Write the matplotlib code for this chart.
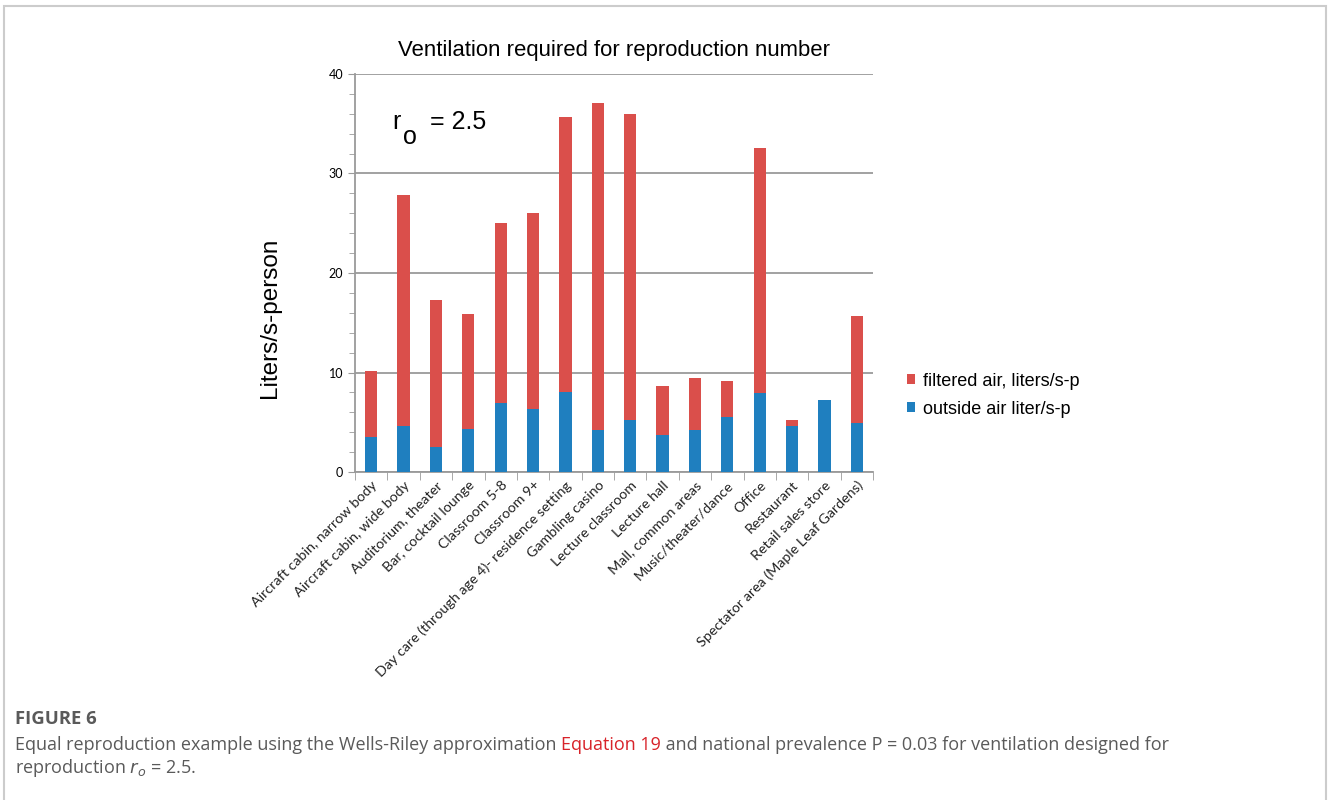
import matplotlib.pyplot as plt
from matplotlib.patches import Rectangle
from matplotlib.ticker import MultipleLocator, FixedLocator

# data (liters/s per person)
categories = [
    'Aircraft cabin, narrow body', 'Aircraft cabin, wide body', 'Auditorium, theater',
    'Bar, cocktail lounge', 'Classroom 5-8', 'Classroom 9+',
    'Day care (through age 4)- residence setting', 'Gambling casino', 'Lecture classroom',
    'Lecture hall', 'Mall, common areas', 'Music/theater/dance', 'Office', 'Restaurant',
    'Retail sales store', 'Spectator area (Maple Leaf Gardens)',
]
outside_air = [3.5, 4.6, 2.5, 4.3, 6.9, 6.3, 8.0, 4.2, 5.2, 3.7, 4.2, 5.5, 7.9, 4.6, 7.2, 4.9]
total_air = [10.2, 27.8, 17.3, 15.9, 25.0, 26.0, 35.7, 37.1, 36.0, 8.6, 9.4, 9.1, 32.6, 5.2, 7.2, 15.7]
filtered_air = [t - o for t, o in zip(total_air, outside_air)]

red = '#DA4F4B'
blue = '#1F7FBF'

fig = plt.figure(figsize=(13.28, 8), dpi=100)

# light frame around the whole figure
fig.patches.append(Rectangle((4 / 1328, -0.01), 1322 / 1328, 1 - 6 / 800 + 0.01,
                             transform=fig.transFigure, fill=False,
                             edgecolor='#CCCCCC', linewidth=1.5))

ax = fig.add_axes([355 / 1328, 1 - 472 / 800, 518 / 1328, 398 / 800])
x = range(len(categories))
ax.bar(x, outside_air, width=0.38, color=blue, label='outside air liter/s-p', zorder=3)
ax.bar(x, filtered_air, width=0.38, bottom=outside_air, color=red,
       label='filtered air, liters/s-p', zorder=3)

ax.set_xlim(-0.5, len(categories) - 0.5)
ax.set_ylim(0, 40)
ax.yaxis.set_major_locator(MultipleLocator(10))
ax.yaxis.set_minor_locator(MultipleLocator(2))
ax.grid(axis='y', color='#9A9A9A', linewidth=1.3, zorder=0)

ax.set_xticks(list(x))
ax.set_xticklabels(categories, rotation=45, ha='right', rotation_mode='anchor',
                   fontsize=10.3, family='Lato', color='#222222')
ax.xaxis.set_minor_locator(FixedLocator([i - 0.5 for i in range(len(categories) + 1)]))
ax.tick_params(axis='x', which='major', length=0, pad=5)
ax.tick_params(axis='x', which='minor', length=6, color='#9A9A9A')
ax.tick_params(axis='y', which='major', length=5, color='#9A9A9A', labelsize=9)
ax.tick_params(axis='y', which='minor', length=4, color='#9A9A9A')
for lab in ax.get_yticklabels():
    lab.set_family('Lato')

for side in ['top', 'right']:
    ax.spines[side].set_visible(False)
for side in ['left', 'bottom']:
    ax.spines[side].set_color('#9A9A9A')
    ax.spines[side].set_linewidth(1.3)

ax.set_ylabel('Liters/s-person', fontsize=17.5, family='Liberation Sans')
ax.yaxis.set_label_coords(-0.143, 0.388)
ax.set_title('Ventilation required for reproduction number', fontsize=15.9,
             family='Liberation Sans', pad=13)

# r_o = 2.5 annotation
ax.text(0.072, 0.863, 'r', transform=ax.transAxes, fontsize=18, family='Liberation Sans',
        va='baseline')
ax.text(0.092, 0.823, 'o', transform=ax.transAxes, fontsize=18, family='Liberation Sans',
        va='baseline')
ax.text(0.145, 0.863, '= 2.5', transform=ax.transAxes, fontsize=18, family='Liberation Sans',
        va='baseline')

handles, labels = ax.get_legend_handles_labels()
ax.legend(handles[::-1], labels[::-1], loc='center left', bbox_to_anchor=(1.066, 0.193),
          frameon=False, prop={'family': 'Liberation Sans', 'size': 13},
          borderpad=0, borderaxespad=0,
          handlelength=0.45, handleheight=0.45, handletextpad=0.45, labelspacing=0.6)

# caption
grey = '#5A5A5A'
fs = 13
fig.text(15 / 1328, 1 - 719 / 800, 'FIGURE 6', fontsize=13.3, color=grey, family='Open Sans',
         weight='bold', va='center')
t1 = fig.text(15 / 1328, 1 - 745 / 800, 'Equal reproduction example using the Wells-Riley approximation ',
              fontsize=fs, color=grey, family='Open Sans', va='center')
t2 = ax.annotate('Equation 19', xy=(1, 0), xycoords=t1, va='bottom', ha='left',
                 fontsize=fs, color='#D8232A', family='Open Sans')
ax.annotate(' and national prevalence P = 0.03 for ventilation designed for', xy=(1, 0),
            xycoords=t2, va='bottom', ha='left', fontsize=fs, color=grey, family='Open Sans')
fig.text(15 / 1328, 1 - 768 / 800, r'reproduction $r_o$ = 2.5.', fontsize=fs, color=grey,
         family='Open Sans', va='center')

fig.savefig('out.png', dpi=100)
